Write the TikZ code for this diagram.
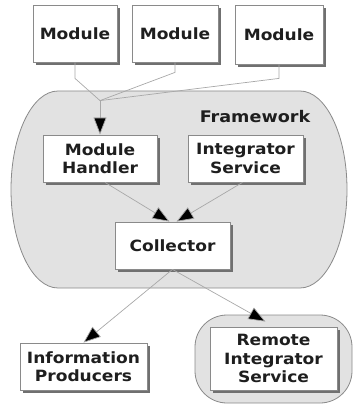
\documentclass[tikz,border=0pt]{standalone}
\usepackage{fontspec}
\setmainfont{DejaVu Sans}[FakeStretch=1.1]
\usetikzlibrary{arrows.meta,calc}
\definecolor{edgegray}{HTML}{8A8A8A}
\definecolor{shadowgray}{HTML}{707070}
\definecolor{regionfill}{HTML}{E2E2E2}
\definecolor{wiregray}{HTML}{A8A8A8}
\definecolor{inkdark}{HTML}{1E1E1E}
\tikzset{
  x=1pt, y=1pt,
  box/.style={draw=edgegray, line width=0.8pt, fill=white, align=center,
    inner sep=0pt, text=inkdark,
    font=\fontsize{15.5}{18.5}\selectfont\bfseries,
    preaction={fill=shadowgray, transform canvas={xshift=3pt, yshift=-3pt}}},
  region/.style={draw=edgegray, line width=0.8pt, fill=regionfill},
  wire/.style={draw=wiregray, line width=0.7pt},
  flow/.style={wire, -{Triangle[length=17pt, width=13pt, fill=black]}},
  tag/.style={text=inkdark, font=\fontsize{16}{18.5}\selectfont\bfseries}
}
\begin{document}
\begin{tikzpicture}
\useasboundingbox (0,0) rectangle (353,-406);

% Framework region: straight top and bottom with elliptical ends
\path[region] (58,-91) -- (300,-91)
  arc[start angle=90, end angle=-90, x radius=47, y radius=98.5]
  -- (58,-288)
  arc[start angle=270, end angle=90, x radius=47, y radius=98.5] -- cycle;
\node[tag] (fw) at (255,-117) {Framework};

% Remote region
\path[region, rounded corners=32pt] (195,-315) rectangle (352,-403);

% Modules
\node[box, minimum width=84pt, minimum height=57pt] (m1) at (75,-33.5) {Module};
\node[box, minimum width=86pt, minimum height=57pt] (m2) at (175,-33.5) {Module};
\node[box, minimum width=88pt, minimum height=59pt] (m3) at (279,-34.5) {Module};

% Framework components
\node[box, minimum width=114pt, minimum height=47pt] (mh) at (100,-158.5) {Module\\Handler};
\node[box, minimum width=115pt, minimum height=47pt] (is) at (245.5,-158.5) {Integrator\\Service};
\node[box, minimum width=115pt, minimum height=47pt] (co) at (172.5,-245.5) {Collector};

% Outside consumers
\node[box, minimum width=127pt, minimum height=47pt] (ip) at (83.5,-366.5) {Information\\Producers};
\node[box, minimum width=127pt, minimum height=63pt] (ri) at (273.5,-358.5) {Remote\\Integrator\\Service};
\coordinate (rtop) at ($(ri.north)+(-8,5)$);

% Module wiring into the handler
\coordinate (merge) at ($(mh.north)+(0,34)$);
\draw[wire] (m1.south) -- ++(0,-16) -- (merge);
\draw[wire] (m2.south) -- ++(0,-10) -- (merge);
\draw[wire] (m3.south) -- ++(0,-14) -- (merge);
\draw[flow] (merge) -- (mh.north);

% Into the collector
\draw[flow] ($(mh.south)+(5,0)$) -- ($(co.north)+(-3,0)$);
\draw[flow] ($(is.south)+(-3,0)$) -- ($(co.north)+(4,0)$);

% Out of the collector
\draw[flow] (co.south) -- (ip.north);
\draw[flow] (co.south) -- (rtop);
\end{tikzpicture}
\end{document}
